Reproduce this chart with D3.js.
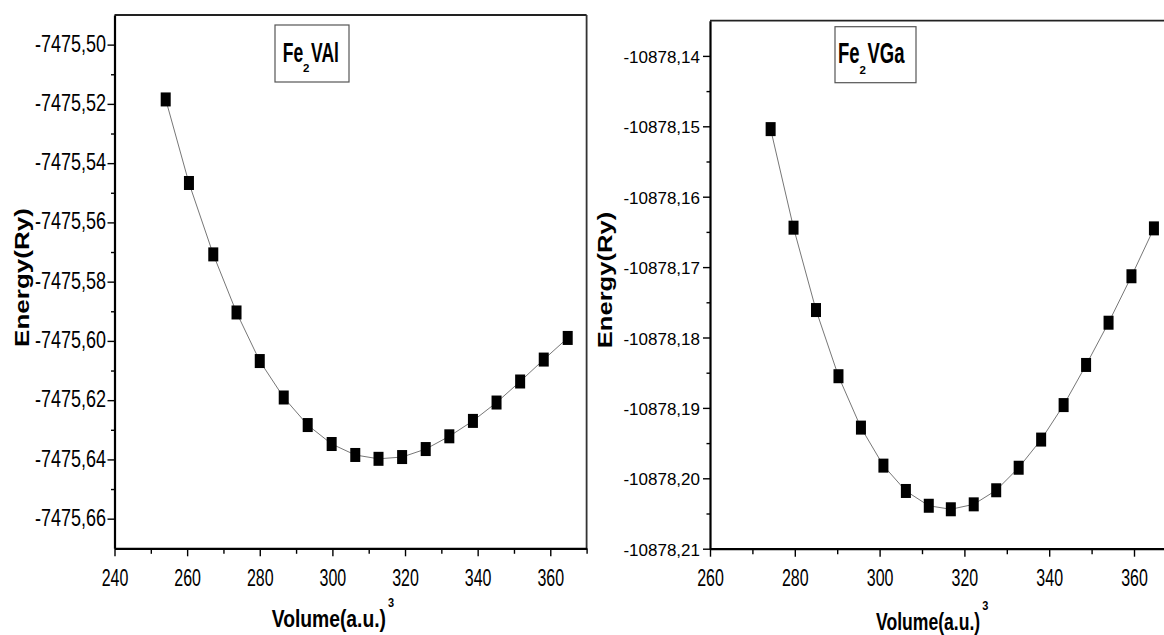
<!DOCTYPE html>
<html><head><meta charset="utf-8">
<script src="https://cdn.jsdelivr.net/npm/d3@7"></script>
<style>
html,body{margin:0;padding:0;background:#fff;overflow:hidden;}
svg{display:block;font-family:"Liberation Sans", Arial, sans-serif;}
</style></head><body>
<svg id="chart" width="1164" height="635"></svg>
<script>
// ---------- data ----------
const volumeAl = [254.1, 260.5, 267.2, 273.6, 280.0, 286.6, 293.2, 299.8, 306.3, 312.7, 319.2, 325.7, 332.2, 338.7, 345.2, 351.7, 358.2, 364.8];
const energyAl = [-7475.5185, -7475.5467, -7475.5708, -7475.5904, -7475.6068, -7475.6191, -7475.6284, -7475.6348, -7475.6385, -7475.6398, -7475.6392, -7475.6365, -7475.6322, -7475.6270, -7475.6208, -7475.6137, -7475.6063, -7475.5990];
const volumeGa = [274.3, 279.7, 285.0, 290.3, 295.6, 300.9, 306.2, 311.6, 316.8, 322.2, 327.5, 332.8, 338.1, 343.4, 348.7, 354.0, 359.4, 364.7];
const energyGa = [-10878.1504, -10878.1644, -10878.1761, -10878.1855, -10878.1928, -10878.1982, -10878.2018, -10878.2039, -10878.2044, -10878.2037, -10878.2017, -10878.1985, -10878.1945, -10878.1896, -10878.1839, -10878.1779, -10878.1713, -10878.1645];

const xTicksAl = [240, 260, 280, 300, 320, 340, 360];
const xMinorAl = [250, 270, 290, 310, 330, 350, 370];
const yTicksAl = [-7475.50, -7475.52, -7475.54, -7475.56, -7475.58, -7475.60, -7475.62, -7475.64, -7475.66];
const yMinorAl = [-7475.51, -7475.53, -7475.55, -7475.57, -7475.59, -7475.61, -7475.63, -7475.65];

const xTicksGa = [260, 280, 300, 320, 340, 360];
const xMinorGa = [270, 290, 310, 330, 350, 370];
const yTicksGa = [-10878.14, -10878.15, -10878.16, -10878.17, -10878.18, -10878.19, -10878.20, -10878.21];
const yMinorGa = [-10878.145, -10878.155, -10878.165, -10878.175, -10878.185, -10878.195, -10878.205];

const legendAl = ["Fe", "2", "VAl"];
const legendGa = ["Fe", "2", "VGa"];
const xTitle = ["Volume(a.u.)", "3"];
const yTitle = "Energy(Ry)";

// ---------- layout ----------
const locale = d3.formatLocale({decimal: ",", thousands: ".", grouping: [3], currency: ["", ""], minus: "-"});
const fmt2 = locale.format(".2f");

const panels = [
  {
    xs: volumeAl, ys: energyAl, xTicks: xTicksAl, xMinor: xMinorAl, yTicks: yTicksAl, yMinor: yMinorAl,
    xDomain: [240, 370], yDomain: [-7475.67, -7475.49],
    left: 114.5, right: 586.6, top: 15, bottom: 548.3, rightBorder: true,
    yTickSize: 18, yTickSy: 1.34, yTickDx: -8.5, yTickBase: 6.6,
    xTickSize: 16, xTickSy: 1.55, xTickBase: 37.7,
    legend: legendAl, legBox: [275, 25, 349, 82], legX: 282.7, legBase: 61.7, legSize: 17.5, legSy: 1.6,
    yTitleX: 28.5, yTitleY: 277.5, yTitleSize: 21, yTitleSx: 1.24,
    xTitleX: 271.7, xTitleBase: 627, xTitleSize: 19.3, xTitleSy: 1.21
  },
  {
    xs: volumeGa, ys: energyGa, xTicks: xTicksGa, xMinor: xMinorGa, yTicks: yTicksGa, yMinor: yMinorGa,
    xDomain: [260, 370], yDomain: [-10878.21, -10878.135],
    left: 710, right: 1176.4, top: 20.7, bottom: 548.7, rightBorder: false,
    yTickSize: 17, yTickSy: 1.0, yTickDx: -10, yTickBase: 6.6,
    xTickSize: 16, xTickSy: 1.55, xTickBase: 37.3,
    legend: legendGa, legBox: [835, 26.7, 916, 82.7], legX: 838, legBase: 63.3, legSize: 18.5, legSy: 1.55,
    yTitleX: 612, yTitleY: 280, yTitleSize: 21, yTitleSx: 1.22,
    xTitleX: 876, xTitleBase: 630, xTitleSize: 17.6, xTitleSy: 1.35
  }
];

const svg = d3.select("#chart");

function stretchedText(g, str, x, y, size, sx, sy, weight) {
  return g.append("text")
    .attr("transform", `translate(${x},${y}) scale(${sx},${sy})`)
    .attr("font-size", size)
    .attr("font-weight", weight || "normal")
    .attr("fill", "#000")
    .text(str);
}

function drawPanel(c) {
  const x = d3.scaleLinear().domain(c.xDomain).range([c.left, c.right]);
  const y = d3.scaleLinear().domain(c.yDomain).range([c.bottom, c.top]);
  const g = svg.append("g");

  // frame (top and right)
  g.append("line").attr("x1", c.left).attr("x2", c.right).attr("y1", c.top).attr("y2", c.top)
    .attr("stroke", "#222").attr("stroke-width", 1.8);
  if (c.rightBorder) {
    g.append("line").attr("x1", c.right).attr("x2", c.right).attr("y1", c.top).attr("y2", c.bottom)
      .attr("stroke", "#333").attr("stroke-width", 1.8);
  }

  // minor ticks
  const mx = g.append("g").attr("transform", `translate(0,${c.bottom})`)
    .call(d3.axisBottom(x).tickValues(c.xMinor).tickSize(5.5).tickFormat(""));
  mx.select(".domain").remove();
  mx.selectAll(".tick line").attr("stroke", "#000").attr("stroke-width", 1.4);
  const my = g.append("g").attr("transform", `translate(${c.left},0)`)
    .call(d3.axisLeft(y).tickValues(c.yMinor).tickSize(3.5).tickFormat(""));
  my.select(".domain").remove();
  my.selectAll(".tick line").attr("stroke", "#000").attr("stroke-width", 1.4);

  // major x axis
  const ax = g.append("g").attr("transform", `translate(0,${c.bottom})`)
    .call(d3.axisBottom(x).tickValues(c.xTicks).tickSize(8).tickSizeOuter(0).tickFormat(d3.format("d")));
  ax.attr("font-family", null).attr("font-size", null);
  ax.select(".domain").attr("stroke", "#000").attr("stroke-width", 2.2);
  ax.selectAll(".tick line").attr("stroke", "#000").attr("stroke-width", 1.4);
  ax.selectAll(".tick text").attr("x", null).attr("y", null).attr("dy", null)
    .attr("fill", "#000").attr("font-size", c.xTickSize)
    .attr("transform", `translate(0,${c.xTickBase}) scale(1,${c.xTickSy})`);

  // major y axis
  const ay = g.append("g").attr("transform", `translate(${c.left},0)`)
    .call(d3.axisLeft(y).tickValues(c.yTicks).tickSize(7).tickSizeOuter(0).tickFormat(fmt2));
  ay.attr("font-family", null).attr("font-size", null);
  ay.select(".domain").attr("stroke", "#000").attr("stroke-width", 2.2);
  ay.selectAll(".tick line").attr("stroke", "#000").attr("stroke-width", 1.4);
  ay.selectAll(".tick text").attr("x", null).attr("y", null).attr("dy", null)
    .attr("fill", "#000").attr("font-size", c.yTickSize)
    .attr("transform", `translate(${c.yTickDx},${c.yTickBase}) scale(1,${c.yTickSy})`);

  // series line + markers
  const idx = d3.range(c.xs.length);
  g.append("path").datum(idx)
    .attr("d", d3.line().x(i => x(c.xs[i])).y(i => y(c.ys[i])))
    .attr("fill", "none").attr("stroke", "#777").attr("stroke-width", 1);
  g.selectAll("rect.pt").data(idx).join("rect").attr("class", "pt")
    .attr("x", i => x(c.xs[i]) - 5).attr("y", i => y(c.ys[i]) - 7)
    .attr("width", 10).attr("height", 14).attr("fill", "#000");

  // legend box
  const [bx0, by0, bx1, by1] = c.legBox;
  g.append("rect").attr("x", bx0).attr("y", by0).attr("width", bx1 - bx0).attr("height", by1 - by0)
    .attr("fill", "#fff").attr("stroke", "#555").attr("stroke-width", 1.2);
  const t1 = stretchedText(g, c.legend[0], c.legX, c.legBase, c.legSize, 1, c.legSy, "bold");
  const w1 = t1.node().getComputedTextLength();
  const t2 = stretchedText(g, c.legend[1], c.legX + w1, c.legBase + 10.3, 11.5, 1, 1.0, "bold");
  const w2 = t2.node().getComputedTextLength();
  stretchedText(g, c.legend[2], c.legX + w1 + w2 + 1.5, c.legBase, c.legSize, 1, c.legSy, "bold");

  // y title
  g.append("text")
    .attr("transform", `translate(${c.yTitleX},${c.yTitleY}) rotate(-90) scale(${c.yTitleSx},1)`)
    .attr("text-anchor", "middle").attr("font-size", c.yTitleSize).attr("font-weight", "bold")
    .attr("fill", "#000").text(yTitle);

  // x title
  const xt = stretchedText(g, xTitle[0], c.xTitleX, c.xTitleBase, c.xTitleSize, 1, c.xTitleSy, "bold");
  const wx = xt.node().getComputedTextLength();
  stretchedText(g, xTitle[1], c.xTitleX + wx + 2, c.xTitleBase - 20, 11, 1, 1.1, "bold");
}

panels.forEach(drawPanel);
</script>
</body></html>
